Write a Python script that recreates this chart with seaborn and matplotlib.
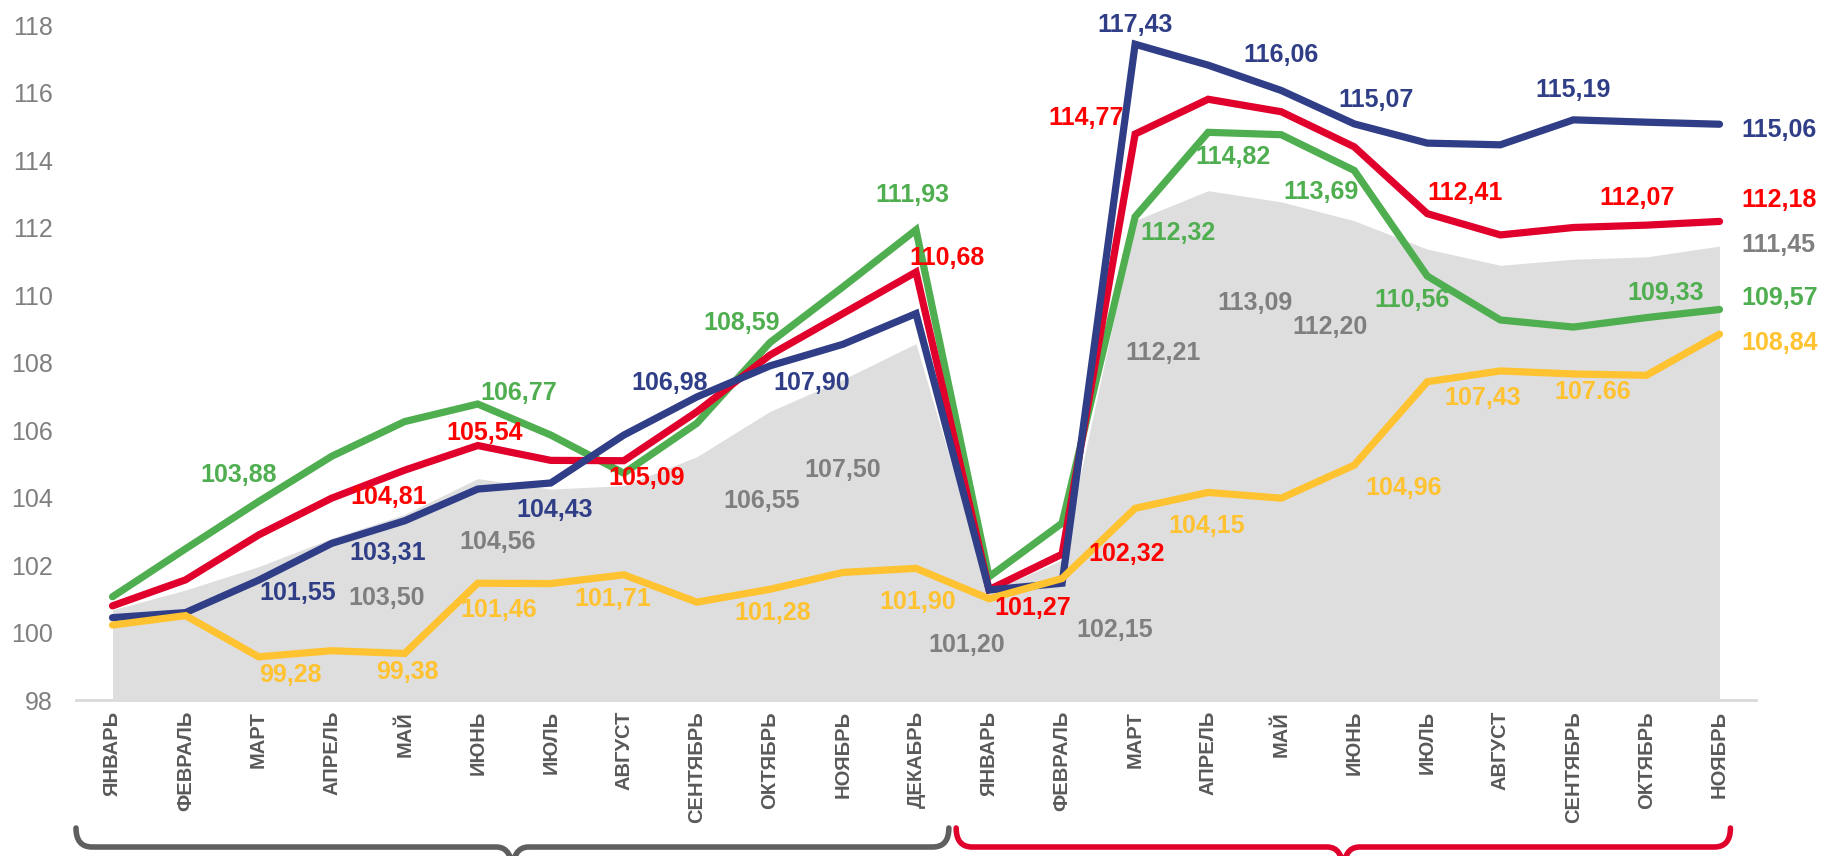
import numpy as np
import matplotlib
matplotlib.use("Agg")
import matplotlib.pyplot as plt
import matplotlib.transforms as mtransforms
from matplotlib.path import Path
from matplotlib.patches import PathPatch
import seaborn as sns

# Month labels (two years: Jan-Dec and Jan-Nov)
months = ['ЯНВАРЬ', 'ФЕВРАЛЬ', 'МАРТ', 'АПРЕЛЬ', 'МАЙ', 'ИЮНЬ', 'ИЮЛЬ', 'АВГУСТ',
          'СЕНТЯБРЬ', 'ОКТЯБРЬ', 'НОЯБРЬ', 'ДЕКАБРЬ',
          'ЯНВАРЬ', 'ФЕВРАЛЬ', 'МАРТ', 'АПРЕЛЬ', 'МАЙ', 'ИЮНЬ', 'ИЮЛЬ', 'АВГУСТ',
          'СЕНТЯБРЬ', 'ОКТЯБРЬ', 'НОЯБРЬ']

# Series values
green = [101.06, 102.48, 103.88, 105.22, 106.25, 106.77, 105.85, 104.72, 106.20, 108.59, 110.24, 111.93,
         101.65, 103.24, 112.32, 114.82, 114.75, 113.69, 110.56, 109.26, 109.05, 109.33, 109.57]
red = [100.79, 101.56, 102.89, 103.98, 104.81, 105.54, 105.10, 105.09, 106.54, 108.22, 109.45, 110.68,
       101.27, 102.32, 114.77, 115.80, 115.43, 114.39, 112.41, 111.78, 112.00, 112.07, 112.18]
navy = [100.44, 100.59, 101.55, 102.64, 103.31, 104.25, 104.43, 105.85, 106.98, 107.90, 108.54, 109.45,
        101.26, 101.46, 117.43, 116.81, 116.06, 115.07, 114.50, 114.45, 115.19, 115.12, 115.06]
yellow = [100.22, 100.50, 99.28, 99.46, 99.38, 101.46, 101.45, 101.71, 100.90, 101.28, 101.78, 101.90,
          101.00, 101.60, 103.68, 104.15, 103.98, 104.96, 107.43, 107.75, 107.66, 107.62, 108.84]
gray = [100.67, 101.26, 101.95, 102.79, 103.50, 104.56, 104.25, 104.35, 105.21, 106.55, 107.50, 108.56,
        101.20, 102.15, 112.21, 113.09, 112.76, 112.20, 111.36, 110.88, 111.06, 111.13, 111.45]

# which points carry a value label: (index, dx px, dy px)
green_labels = [(2, -20, 27), (5, 41, 11), (9, -28, 20), (11, -4, 35), (14, 43, -16), (15, 25, -25),
                (17, -33, -22), (18, -15, -24), (21, 19, 25)]
red_labels = [(4, -16, -27), (5, 7, 13), (7, 23, -17), (11, 31, 14), (12, 44, -18), (13, 65, 0),
              (14, -49, 16), (18, 38, 21), (21, -9, 27)]
navy_labels = [(2, 39, -13), (4, -17, -32), (6, 4, -27), (8, -27, 14), (9, 42, -17), (14, 0, 19),
               (16, 0, 35), (17, 22, 24), (20, 0, 30)]
yellow_labels = [(2, 32, -18), (4, 3, -19), (5, 21, -27), (7, -11, -24), (9, 3, -24), (11, 2, -34),
                 (15, -1, -34), (17, 49, -23), (18, 55, -16), (20, 19, -18)]
gray_labels = [(4, -18, -84), (5, 20, -63), (9, -8, -90), (10, 0, -91), (12, -22, -53), (13, 53, -70),
               (14, 28, -133), (15, 47, -112), (17, -24, -106)]
# vertical offset of the end-of-line labels
end_dy = {'green': 12, 'red': 21, 'navy': -6, 'yellow': -9, 'gray': 1}

C_GREEN = '#4FAE4F'
C_RED_LINE = '#E0002B'
C_RED_TEXT = '#FF0000'
C_NAVY = '#2F3E86'
C_YELLOW = '#FFC230'
C_AREA = '#DEDEDE'
C_GRAYTXT = '#7F7F7F'

sns.set_style("white")
plt.rcParams['font.family'] = ['Liberation Sans', 'DejaVu Sans']

fig = plt.figure(figsize=(18.26, 8.56), dpi=100)
ax = fig.add_axes([76 / 1826, 1 - 700 / 856, 1680 / 1826, 675 / 856])

x = np.arange(len(months))

# gray area
ax.fill_between(x, 98, gray, color=C_AREA, linewidth=0, zorder=1)

series = [
    ('green', green, C_GREEN, C_GREEN, green_labels),
    ('red', red, C_RED_LINE, C_RED_TEXT, red_labels),
    ('navy', navy, C_NAVY, C_NAVY, navy_labels),
    ('yellow', yellow, C_YELLOW, C_YELLOW, yellow_labels),
]
for name, vals, lc, tc, labs in series:
    sns.lineplot(x=x, y=vals, color=lc, linewidth=5.2, ax=ax, zorder=3,
                 solid_capstyle='round', solid_joinstyle='miter')


def fmt(v, idx=None, name=None):
    s = f"{v:.2f}"
    # one label in the original uses a dot
    if name == 'yellow' and idx == 20:
        return s
    return s.replace('.', ',')


all_series = series + [('gray', gray, C_AREA, C_GRAYTXT, gray_labels)]
for name, vals, lc, tc, labs in all_series:
    for idx, dx, dy in labs:
        ax.annotate(fmt(vals[idx], idx, name), (x[idx], vals[idx]), xytext=(dx, dy),
                    textcoords='offset pixels', ha='center', va='center',
                    fontsize=18, fontweight='bold', color=tc, zorder=5)
    last = len(vals) - 1
    ax.annotate(fmt(vals[last]), (x[last], vals[last]), xytext=(22, end_dy[name]),
                textcoords='offset pixels', ha='left', va='center',
                fontsize=18, fontweight='bold', color=tc, zorder=5, annotation_clip=False)

ax.set_xlim(-0.5, len(months) - 0.5)
ax.set_ylim(98, 118)
ax.set_yticks(np.arange(98, 119, 2))
ax.set_yticklabels([str(v) for v in range(98, 119, 2)])
ax.set_xticks(x)
ax.set_xticklabels(months, rotation=90, fontsize=14.5, fontweight='bold', color='#595959')
ax.tick_params(axis='y', length=0, pad=16.5, labelsize=18, labelcolor=C_GRAYTXT)
ax.tick_params(axis='x', length=0, pad=8)
ax.set_xlabel('')
ax.set_ylabel('')
for s in ['top', 'right', 'left']:
    ax.spines[s].set_visible(False)
ax.spines['bottom'].set_color('#D9D9D9')
ax.spines['bottom'].set_linewidth(2)
ax.spines['bottom'].set_zorder(0.5)

# year braces below the axis
trans = mtransforms.blended_transform_factory(ax.transData, fig.transFigure)


def brace(x0, x1, color):
    m = (x0 + x1) / 2
    r = 0.22
    ytop, yh, ytip = 1 - 828 / 856, 1 - 847 / 856, -0.02
    verts = [(x0, ytop), (x0, yh), (x0 + r, yh), (m - r, yh), (m, yh), (m, ytip),
             (m, yh), (m + r, yh), (x1 - r, yh), (x1, yh), (x1, ytop)]
    codes = [Path.MOVETO, Path.CURVE3, Path.CURVE3, Path.LINETO, Path.CURVE3, Path.CURVE3,
             Path.CURVE3, Path.CURVE3, Path.LINETO, Path.CURVE3, Path.CURVE3]
    patch = PathPatch(Path(verts, codes), facecolor='none', edgecolor=color, linewidth=4,
                      transform=trans, clip_on=False, capstyle='round', joinstyle='round')
    ax.add_patch(patch)


brace(-0.5, 11.45, '#5F5F5F')
brace(11.55, 22.15, C_RED_LINE)

fig.savefig('out.png', dpi=100)
